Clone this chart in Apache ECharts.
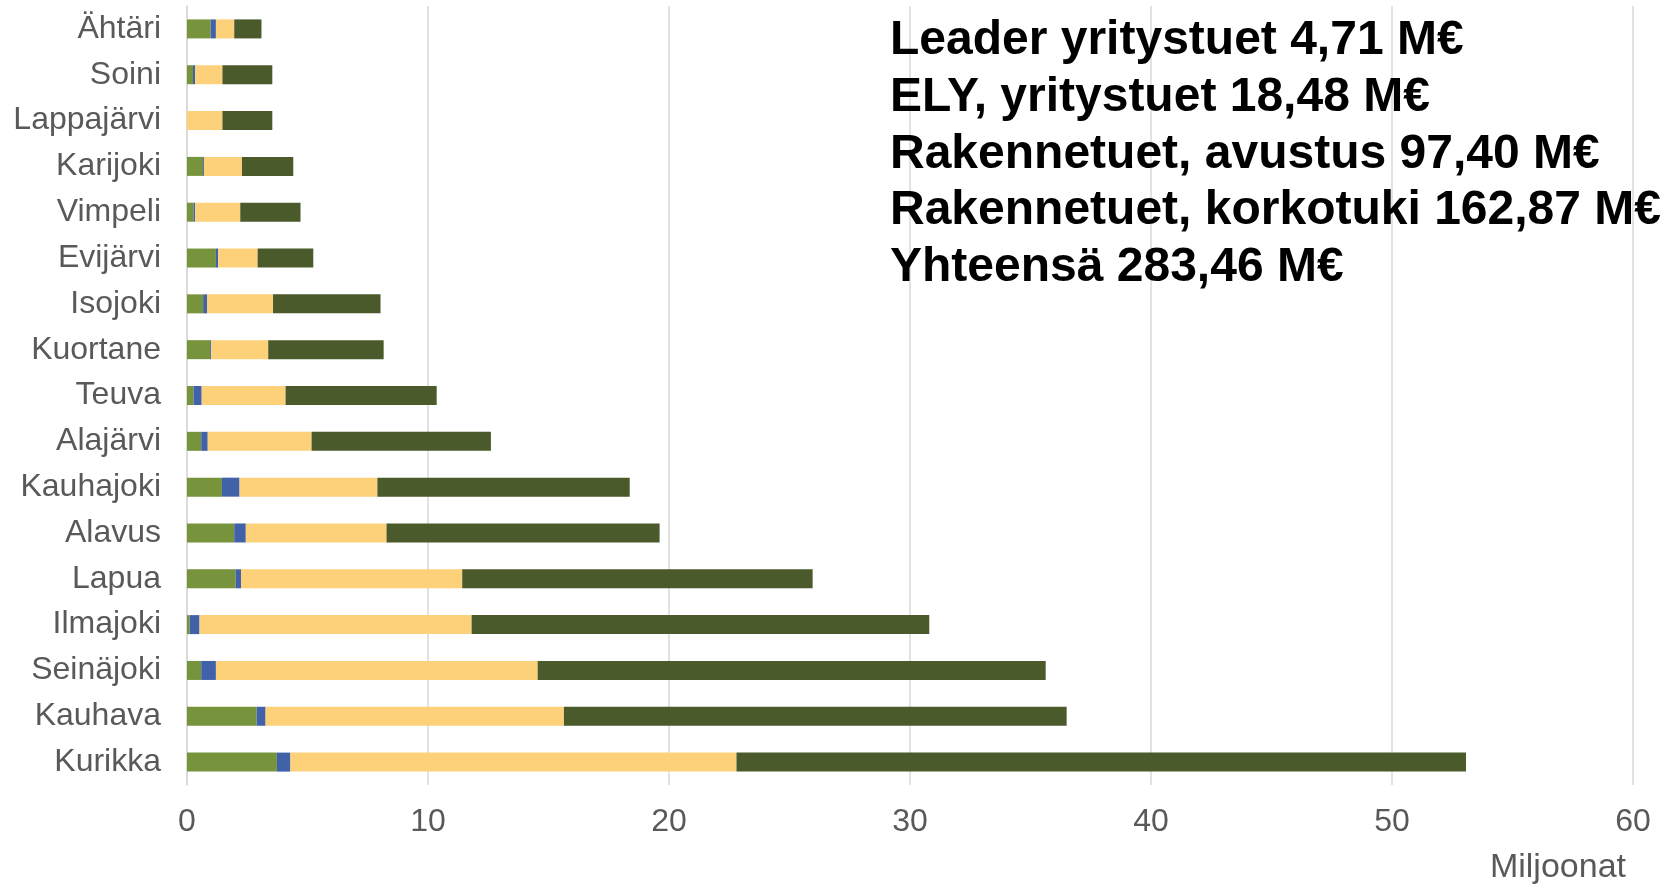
<!DOCTYPE html>
<html>
<head>
<meta charset="utf-8">
<script src="https://cdn.jsdelivr.net/npm/echarts@6/dist/echarts.min.js"></script>
<style>
  html, body { margin: 0; padding: 0; background: #fff; }
  #main { width: 1669px; height: 887px; }
</style>
</head>
<body>
<div id="main"></div>
<script>
// kunnat ylhäältä alas
var categories = ['Ähtäri', 'Soini', 'Lappajärvi', 'Karijoki', 'Vimpeli', 'Evijärvi', 'Isojoki', 'Kuortane',
  'Teuva', 'Alajärvi', 'Kauhajoki', 'Alavus', 'Lapua', 'Ilmajoki', 'Seinäjoki', 'Kauhava', 'Kurikka']
// miljoonaa euroa
var elyYritystuet = [0.98, 0.25, 0, 0.67, 0.27, 1.20, 0.67, 0.96, 0.27, 0.59, 1.45, 1.96, 2.02, 0.11, 0.59, 2.89, 3.73]
var leaderYritystuet = [0.22, 0.09, 0, 0.04, 0.07, 0.09, 0.16, 0.04, 0.34, 0.27, 0.73, 0.48, 0.22, 0.41, 0.61, 0.37, 0.56]
var rakAvustus = [0.76, 1.13, 1.47, 1.57, 1.87, 1.64, 2.74, 2.37, 3.48, 4.31, 5.72, 5.84, 9.18, 11.29, 13.35, 12.38, 18.51]
var rakKorkotuki = [1.13, 2.07, 2.07, 2.13, 2.50, 2.31, 4.46, 4.79, 6.27, 7.44, 10.47, 11.33, 14.54, 18.99, 21.08, 20.86, 30.27]
var xTicks = [0, 10, 20, 30, 40, 50, 60]
var summaryLines = [
  'Leader yritystuet 4,71 M€',
  'ELY, yritystuet 18,48 M€',
  'Rakennetuet, avustus 97,40 M€',
  'Rakennetuet, korkotuki 162,87 M€',
  'Yhteensä 283,46 M€'
]

var font = 'Arial, "Liberation Sans", sans-serif'
var myChart = echarts.init(document.getElementById('main'))

function bar (name, data, color) {
  return {
    name: name,
    type: 'bar',
    stack: 'yht',
    barWidth: 19,
    data: data,
    itemStyle: { color: color },
    emphasis: { disabled: true }
  }
}

myChart.setOption({
  animation: false,
  textStyle: { fontFamily: font },
  grid: {
    left: 187,
    right: 36,
    top: 6,
    bottom: 102
  },
  xAxis: {
    type: 'value',
    min: xTicks[0],
    max: xTicks[xTicks.length - 1],
    interval: 10,
    axisLine: { show: false },
    axisTick: { show: false },
    axisLabel: {
      color: '#595959',
      fontSize: 32,
      margin: 21
    },
    splitLine: {
      show: true,
      lineStyle: { color: '#D9D9D9', width: 1.5 }
    }
  },
  yAxis: {
    type: 'category',
    inverse: true,
    data: categories,
    axisLine: { show: true, lineStyle: { color: '#D9D9D9', width: 1.5 } },
    axisTick: { show: false },
    axisLabel: {
      color: '#595959',
      fontSize: 32,
      margin: 26,
      padding: [4, 0, 0, 0]
    }
  },
  series: [
    bar('ELY, yritystuet', elyYritystuet, '#77933C'),
    bar('Leader yritystuet', leaderYritystuet, '#4161A9'),
    bar('Rakennetuet, avustus', rakAvustus, '#FDD07A'),
    bar('Rakennetuet, korkotuki', rakKorkotuki, '#4A5A2B')
  ],
  graphic: summaryLines.map(function (t, i) {
    return {
      type: 'text',
      z: 100,
      left: 890,
      top: 17 + i * 56.7,
      style: {
        text: t,
        fontFamily: font,
        fontWeight: 'bold',
        fontSize: 48,
        fill: '#000'
      }
    }
  }).concat([{
    type: 'text',
    z: 100,
    right: 43,
    top: 851,
    style: {
      text: 'Miljoonat',
      fontFamily: font,
      fontSize: 34,
      fill: '#595959'
    }
  }])
})
</script>
</body>
</html>
